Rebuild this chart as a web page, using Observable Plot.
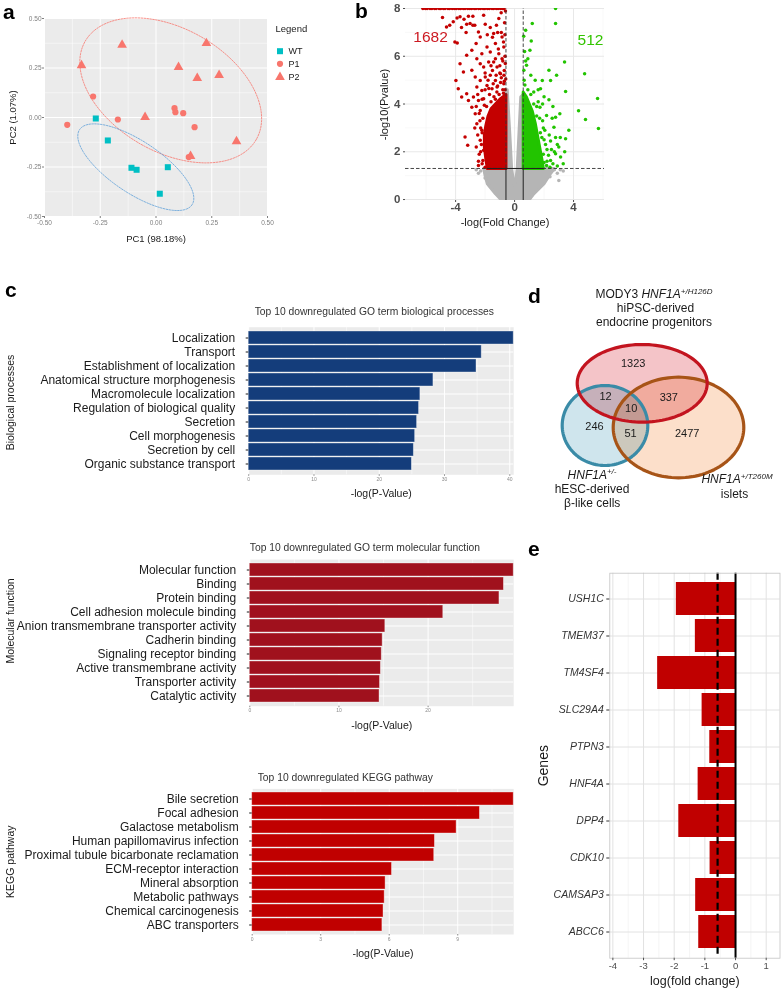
<!DOCTYPE html>
<html><head><meta charset="utf-8">
<script src="https://cdn.jsdelivr.net/npm/d3@7"></script>
<script src="https://cdn.jsdelivr.net/npm/@observablehq/plot@0.6"></script>
<style>
body{margin:0;background:#fff;font-family:'Liberation Sans',Arial,sans-serif;}
#fig{position:relative;width:783px;height:989px;overflow:hidden;background:#fff;}
.panel{position:absolute;}
.letter{position:absolute;font-weight:bold;font-size:21px;line-height:21px;color:#000;}
</style></head><body><div id="fig"></div>
<script>
// ================= DATA =================
// Panel a: PCA
const wtPC1 = [-0.270, -0.216, -0.110, -0.087, 0.053, 0.017];
const wtPC2 = [-0.005, -0.116, -0.254, -0.264, -0.251, -0.385];
const p1PC1 = [-0.398, -0.282, -0.171, 0.083, 0.087, 0.122, 0.173, 0.147];
const p1PC2 = [-0.037, 0.106, -0.010, 0.047, 0.027, 0.022, -0.049, -0.200];
const p2PC1 = [-0.334, -0.152, -0.049, 0.101, 0.185, 0.226, 0.283, 0.155, 0.361];
const p2PC2 = [0.263, 0.367, 0.002, 0.254, 0.199, 0.375, 0.214, -0.195, -0.121];
// 95% ellipses: centre and two half-axis vectors (PC1, PC2 units)
const ellipseStats = [
  {group: "Patient", cx: 0.066, cy: 0.137, ux: 0.384, uy: -0.2475, vx: -0.137, vy: -0.270},
  {group: "WT", cx: -0.0906, cy: -0.251, ux: 0.252, uy: -0.190, vx: -0.0646, vy: -0.1087}
];
const pcaTicks = [-0.5, -0.25, 0, 0.25, 0.5];

// Panel b: volcano (log2 fold change, -log10 p)
const redPts = [
[-4.89,7.62],[-4.62,7.23],[-4.16,7.44],[-3.70,7.65],[-3.43,7.55],[-3.13,7.68],[-2.83,7.68],[-3.02,7.37],[-3.25,7.34],[-2.83,7.30],
[-3.29,6.99],[-4.05,6.60],[-3.89,6.56],[-2.45,7.02],[-2.10,7.72],[-1.99,7.34],[-1.65,7.20],[-1.42,6.95],[-1.07,7.58],[-0.91,7.82],
[-1.23,7.30],[-2.33,6.81],[-2.61,6.53],[-2.90,6.25],[-3.25,6.04],[-3.70,5.69],[-3.47,5.34],[-2.90,5.41],[-3.98,4.99],[-3.82,4.64],
[-3.59,4.29],[-3.25,4.43],[-3.13,4.15],[-2.90,3.87],[-3.36,2.62],[-3.18,2.27],[-2.45,1.43],[-2.56,5.90],[-2.22,6.11],[-1.87,6.39],
[-1.65,6.18],[-1.30,6.53],[-0.85,6.81],[-0.73,6.39],[-1.07,6.11],[-2.33,5.69],[-2.10,5.55],[-1.76,5.76],[-1.42,5.76],[-1.19,5.55],
[-0.85,5.90],[-2.67,5.13],[-2.33,4.99],[-1.99,5.13],[-1.65,5.20],[-1.30,4.99],[-0.96,5.27],[-2.56,4.71],[-2.22,4.57],[-1.87,4.78],
[-1.53,4.64],[-1.19,4.71],[-0.73,4.85],[-2.79,4.29],[-2.45,4.15],[-2.10,4.22],[-2.67,3.59],[-2.33,3.73],[-2.56,3.17],[-2.22,2.90],
[-2.33,2.48],[-2.10,2.06],[-1.87,1.78],[-2.15,1.64],[-1.65,1.50],[-1.76,1.38],[-0.70,5.40],[-0.80,5.80],[-1.00,5.30],[-0.65,6.00],
[-0.75,6.60],[-0.90,7.00],[-0.68,7.40],[-1.30,5.90],[-1.10,6.30],[-0.95,4.90],[-1.50,5.40],[-1.80,5.00],[-2.00,4.60],[-1.70,4.40],
[-2.20,4.20],[-2.40,3.60],[-2.30,3.00],[-2.30,2.00],[-2.20,1.50],[-2.00,1.35],[-2.40,1.90],[-0.62,7.90],[-0.66,6.90],[-0.63,5.70],
[-0.72,5.20],[-1.15,7.00],[-1.50,6.80],[-1.85,6.90],[-2.70,7.30],[-3.60,7.20],[-3.90,7.60],[-4.40,7.30],
[-1.90,3.90],[-1.60,4.10],[-1.40,4.30],[-1.20,4.50],[-1.05,4.40],[-0.80,4.60],[-0.70,4.95],[-0.65,4.60],[-0.90,5.10],[-1.25,5.20],
[-1.45,4.85],[-1.75,4.65],[-2.05,3.95],[-2.15,3.40],[-1.00,5.60],[-0.60,5.05],[-1.60,5.60],[-2.00,5.30],[-2.50,4.40],[-2.60,3.90],
[-1.30,4.20],[-2.25,2.30],[-2.20,2.80],[-2.35,3.30],[-2.50,2.70],[-2.60,2.20],[-2.45,1.60],[-2.70,3.00],[-0.75,4.45],[-1.15,4.75]];
const redTopX = [-6.22,-6.05,-5.93,-5.74,-5.61,-5.43,-5.32,-5.12,-5.01,-4.83,-4.72,-4.52,-4.41,-4.23,-4.08,-3.95,-3.78,-3.66,-3.48,-3.36,
-3.18,-3.04,-2.91,-2.73,-2.62,-2.44,-2.31,-2.13,-2.02,-1.84,-1.71,-1.53,-1.42,-1.24,-1.12,-0.96,-0.83,-0.72];
const greenPts = [
[1.20,7.37],[2.78,7.37],[1.13,6.64],[1.04,6.25],[0.62,6.84],[0.75,7.09],[2.33,5.41],[2.85,5.20],[3.39,5.76],[1.88,4.99],
[2.44,4.99],[1.76,4.64],[2.33,4.18],[1.72,3.87],[2.17,3.52],[2.55,3.40],[2.78,3.45],[3.07,3.59],[2.67,3.03],[2.78,2.60],
[2.44,2.45],[2.90,2.30],[3.68,2.90],[3.46,2.55],[3.00,2.20],[2.78,1.92],[3.12,1.78],[2.44,1.64],[2.17,1.43],[0.81,5.62],
[0.63,5.41],[0.90,5.90],[1.40,5.00],[1.30,4.50],[1.60,4.10],[1.90,3.30],[2.05,2.90],[2.20,2.10],[1.95,1.90],[2.00,2.50],
[1.75,2.80],[1.50,3.50],[2.30,1.85],[2.60,1.50],[3.30,1.50],[2.90,1.40],[2.00,1.55],[4.34,3.72],[4.81,3.35],[5.63,4.23],
[5.69,2.97],[4.75,5.27],[3.46,4.52],[2.78,8.00],
[0.70,4.80],[0.90,4.60],[1.10,4.40],[0.65,5.00],[1.30,4.00],[1.50,3.90],[1.70,3.40],[1.85,2.60],[2.10,2.30],[1.95,3.00],
[2.35,2.70],[2.50,2.10],[2.20,1.60],[2.40,1.35],[1.10,5.20],[0.75,5.80],[0.68,6.20],[1.60,4.60],[2.00,4.30],[2.60,3.90],
[3.10,2.60],[3.40,2.00],[2.70,2.00],[1.90,4.00]];
const grayPts = [[-2.30,1.20],[-2.60,1.25],[2.90,1.10],[3.10,1.25],[2.40,0.95],[-2.00,0.90],[3.30,1.20],[-2.45,1.10],[2.70,1.25],[3.00,0.80]];
// outlines of the densest clouds of points
const redCloud = [[-0.585,1.3],[-1.85,1.3],[-1.95,1.7],[-2.05,2.2],[-2.05,2.7],[-1.95,3.1],[-1.8,3.5],[-1.6,3.8],[-1.3,4.0],[-1.0,4.2],[-0.585,4.4]];
const greenCloud = [[0.585,1.3],[1.95,1.3],[1.85,1.7],[1.7,2.2],[1.55,2.7],[1.4,3.2],[1.2,3.7],[1.0,4.0],[0.8,4.3],[0.585,4.5]];
const grayCloud = [[-2.1,1.3],[-0.585,1.3],[-0.585,4.6],[-0.5,4.6],[-0.33,2.8],[-0.2,1.3],[-0.08,0.8],[0,0.55],[0.08,0.8],[0.18,1.3],[0.3,2.8],[0.42,4.3],[0.585,4.4],[0.585,1.3],[2.7,1.3],[2.4,1.05],[2.0,0.66],[1.3,0.24],[0.95,-0.05],[-0.85,-0.05],[-1.3,0.24],[-1.85,0.66],[-2.0,1.0]];
const fcCut = Math.log2(1.5);
const pCut = -Math.log10(0.05);
const nDown = 1682, nUp = 512;

// Panel c
const bpTerms = ["Localization","Transport","Establishment of localization","Anatomical structure morphogenesis","Macromolecule localization","Regulation of biological quality","Secretion","Cell morphogenesis","Secretion by cell","Organic substance transport"];
const bpValues = [40.6, 35.7, 34.9, 28.3, 26.3, 26.1, 25.8, 25.5, 25.3, 25.0];
const mfTerms = ["Molecular function","Binding","Protein binding","Cell adhesion molecule binding","Anion transmembrane transporter activity","Cadherin binding","Signaling receptor binding","Active transmembrane activity","Transporter activity","Catalytic activity"];
const mfValues = [29.6, 28.5, 28.0, 21.7, 15.2, 14.9, 14.8, 14.7, 14.6, 14.55];
const keggTerms = ["Bile secretion","Focal adhesion","Galactose metabolism","Human papillomavirus infection","Proximal tubule bicarbonate reclamation","ECM-receptor interaction","Mineral absorption","Metabolic pathways","Chemical carcinogenesis","ABC transporters"];
const keggValues = [11.45, 9.97, 8.95, 8.0, 7.97, 6.12, 5.84, 5.8, 5.75, 5.7];

// Panel d: Venn counts
const vennRegions = ["MODY3 only","MODY3 & hESC","all three","MODY3 & islets","hESC only","hESC & islets","islets only"];
const vennCounts = [1323, 12, 10, 337, 246, 51, 2477];

// Panel e
const genes = ["USH1C","TMEM37","TM4SF4","SLC29A4","PTPN3","HNF4A","DPP4","CDK10","CAMSAP3","ABCC6"];
const logFC = [-1.93, -1.31, -2.54, -1.09, -0.84, -1.22, -1.85, -0.83, -1.30, -1.20];

// ================= LAYOUT HELPERS =================
const FONT = "'Liberation Sans', Arial, Helvetica, sans-serif";
const fig = document.getElementById("fig");
function place(node, left, top) {
  const d = document.createElement("div");
  d.className = "panel"; d.style.left = left + "px"; d.style.top = top + "px";
  d.appendChild(node); fig.appendChild(d);
}
function letter(ch, left, baseline) {
  const d = document.createElement("div");
  d.className = "letter"; d.textContent = ch;
  d.style.left = left + "px"; d.style.top = (baseline - 17) + "px";
  fig.appendChild(d);
}
const st = {background: "none", fontFamily: FONT, overflow: "visible"};
const label = (txt, anchor, o) => Plot.text([txt], {frameAnchor: anchor, text: d => d, textAnchor: "middle", lineAnchor: "middle", fill: "#1a1a1a", ...o});

// ================= PANEL A =================
const pcaRows = [
  ...wtPC1.map((x, i) => ({x, y: wtPC2[i], g: "WT"})),
  ...p1PC1.map((x, i) => ({x, y: p1PC2[i], g: "P1"})),
  ...p2PC1.map((x, i) => ({x, y: p2PC2[i], g: "P2"}))
];
const ellRows = ellipseStats.flatMap(e => d3.range(0, 360, 3).map(a => {
  const t = a * Math.PI / 180;
  return {g: e.group, x: e.cx + e.ux * Math.cos(t) + e.vx * Math.sin(t), y: e.cy + e.uy * Math.cos(t) + e.vy * Math.sin(t)};
}));
const fmt2 = d => d.toFixed(2);
const plotA = Plot.plot({
  width: 320, height: 250, marginLeft: 44, marginRight: 53, marginTop: 18, marginBottom: 34,
  style: st,
  x: {domain: [-0.5, 0.5]}, y: {domain: [-0.5, 0.5]},
  marks: [
    Plot.frame({fill: "#EBEBEB", stroke: "none"}),
    Plot.gridX([-0.375, -0.125, 0.125, 0.375], {stroke: "white", strokeOpacity: 1, strokeWidth: 0.5}),
    Plot.gridY([-0.375, -0.125, 0.125, 0.375], {stroke: "white", strokeOpacity: 1, strokeWidth: 0.5}),
    Plot.gridX(pcaTicks, {stroke: "white", strokeOpacity: 1, strokeWidth: 1}),
    Plot.gridY(pcaTicks, {stroke: "white", strokeOpacity: 1, strokeWidth: 1}),
    Plot.axisX(pcaTicks, {tickSize: 2, tickPadding: 2, fontSize: 6.5, color: "#7F7F7F", tickFormat: fmt2, label: null}),
    Plot.axisY(pcaTicks, {tickSize: 2, tickPadding: 1, fontSize: 6.5, color: "#7F7F7F", tickFormat: fmt2, label: null}),
    Plot.line(ellRows.filter(d => d.g === "Patient"), {x: "x", y: "y", stroke: "#F8766D", strokeWidth: 0.8, strokeDasharray: "1.6,1.3", curve: "linear-closed"}),
    Plot.line(ellRows.filter(d => d.g === "WT"), {x: "x", y: "y", stroke: "#5E9FD8", strokeWidth: 0.8, strokeDasharray: "1.6,1.3", curve: "linear-closed"}),
    Plot.dot(pcaRows.filter(d => d.g === "P1"), {x: "x", y: "y", r: 3.1, fill: "#F8766D", symbol: "circle"}),
    Plot.dot(pcaRows.filter(d => d.g === "P2"), {x: "x", y: "y", r: 3.6, fill: "#F8766D", symbol: "triangle"}),
    Plot.dot(pcaRows.filter(d => d.g === "WT"), {x: "x", y: "y", r: 3.4, fill: "#00BFC4", symbol: "square"}),
    label("PC1 (98.18%)", "bottom", {dy: 22, fontSize: 9.5}),
    label("PC2 (1.07%)", "left", {dx: -32, rotate: -90, fontSize: 9.5}),
    label("Legend", "top-right", {dx: 8, dy: 10, textAnchor: "start", fontSize: 9.5}),
    Plot.dot(["WT"], {frameAnchor: "top-right", dx: 12.5, dy: 32.7, r: 3.4, symbol: "square", fill: "#00BFC4"}),
    Plot.dot(["P1"], {frameAnchor: "top-right", dx: 12.5, dy: 45.3, r: 3.1, symbol: "circle", fill: "#F8766D"}),
    Plot.dot(["P2"], {frameAnchor: "top-right", dx: 12.5, dy: 58.7, r: 3.6, symbol: "triangle", fill: "#F8766D"}),
    label("WT", "top-right", {dx: 21, dy: 32.7, textAnchor: "start", fontSize: 9}),
    label("P1", "top-right", {dx: 21, dy: 45.3, textAnchor: "start", fontSize: 9}),
    label("P2", "top-right", {dx: 21, dy: 58.7, textAnchor: "start", fontSize: 9})
  ]
});
place(plotA, 0, 0);

// ================= PANEL B =================
const ptRows = pts => pts.map(([x, y]) => ({x, y}));
const REDV = "#C40000", GREENV = "#22C400", GRAYV = "#B5B5B5";
const plotB = Plot.plot({
  width: 245, height: 232, marginLeft: 40, marginRight: 6, marginTop: 8, marginBottom: 32,
  style: st,
  x: {domain: [-7.4, 6.1]}, y: {domain: [-0.04, 8]},
  marks: [
    Plot.gridX([-6, -2, 2, 6], {stroke: "#F3F3F3", strokeOpacity: 1, strokeWidth: 0.6}),
    Plot.gridY([1, 3, 5, 7], {stroke: "#F3F3F3", strokeOpacity: 1, strokeWidth: 0.6}),
    Plot.gridX([-4, 0, 4], {stroke: "#E8E8E8", strokeOpacity: 1, strokeWidth: 1}),
    Plot.gridY([0, 2, 4, 6, 8], {stroke: "#E8E8E8", strokeOpacity: 1, strokeWidth: 1}),
    Plot.line(ptRows(grayCloud), {x: "x", y: "y", fill: GRAYV, stroke: GRAYV, strokeWidth: 3, strokeLinejoin: "round", curve: "linear-closed", clip: true}),
    Plot.dot(ptRows(grayPts), {x: "x", y: "y", r: 1.75, fill: GRAYV}),
    Plot.line(ptRows(redCloud), {x: "x", y: "y", fill: REDV, stroke: REDV, strokeWidth: 3, strokeLinejoin: "round", curve: "linear-closed"}),
    Plot.line(ptRows(greenCloud), {x: "x", y: "y", fill: GREENV, stroke: GREENV, strokeWidth: 3, strokeLinejoin: "round", curve: "linear-closed"}),
    Plot.dot(ptRows(redPts), {x: "x", y: "y", r: 1.75, fill: REDV}),
    Plot.dot(redTopX, {x: d => d, y: 8, r: 1.75, fill: REDV, clip: true}),
    Plot.dot(ptRows(greenPts), {x: "x", y: "y", r: 1.75, fill: GREENV, clip: true}),
    Plot.ruleY([pCut], {stroke: "#333", strokeWidth: 0.9, strokeDasharray: "3.5,2"}),
    Plot.ruleX([-fcCut, fcCut], {y1: pCut, y2: 8, stroke: "#333", strokeWidth: 0.9, strokeDasharray: "3.5,2"}),
    Plot.ruleX([-fcCut, fcCut], {y1: -0.04, y2: pCut, stroke: "#222", strokeWidth: 1}),
    Plot.ruleY([pCut], {x1: -1.85, x2: 2.0, stroke: "#222", strokeWidth: 1}),
    Plot.axisX([-4, 0, 4], {tickSize: 2, tickPadding: 0, fontSize: 11.5, fontWeight: "bold", color: "#4D4D4D", tickFormat: d => String(d), label: null}),
    Plot.axisY([0, 2, 4, 6, 8], {tickSize: 2, tickPadding: 3, fontSize: 11.5, fontWeight: "bold", color: "#4D4D4D", tickFormat: d => String(d), label: null}),
    label(String(nDown), "top-left", {dx: 25, dy: 29, fontSize: 15.5, fill: "#CC1A22"}),
    label(String(nUp), "top-right", {dx: -14, dy: 32, fontSize: 15.5, fill: "#33C400"}),
    label("-log(Fold Change)", "bottom", {dy: 22, fontSize: 11}),
    label("-log10(Pvalue)", "left", {dx: -21, rotate: -90, fontSize: 11})
  ]
});
place(plotB, 365, 0);

// ================= PANEL C =================
function barPanel({terms, values, color, ticks, minor, domainMax, height, mLeft, mTop, mBottom, title, titleDx, titleDy, side, sideDy}) {
  const rows = terms.map((t, i) => ({t, v: values[i]}));
  return Plot.plot({
    width: 530, height, marginLeft: mLeft, marginRight: 530 - 513.2, marginTop: mTop, marginBottom: mBottom,
    style: st,
    x: {domain: [0, domainMax]},
    y: {type: "band", domain: terms, paddingInner: 0.1, paddingOuter: 0.15},
    marks: [
      Plot.frame({fill: "#EBEBEB", stroke: "none"}),
      Plot.gridX(minor, {stroke: "white", strokeOpacity: 1, strokeWidth: 0.5}),
      Plot.gridX(ticks, {stroke: "white", strokeOpacity: 1, strokeWidth: 1}),
      Plot.gridY({stroke: "white", strokeOpacity: 1, strokeWidth: 1}),
      Plot.barX(rows, {x: "v", y: "t", fill: color, stroke: "white", strokeOpacity: 0.45, strokeWidth: 0.8}),
      Plot.axisY({tickSize: 2.5, tickPadding: 11, fontSize: 12, color: "#1a1a1a", label: null}),
      Plot.axisX(ticks, {tickSize: 1.5, tickPadding: 1, fontSize: 5, color: "#8A8A8A", tickFormat: d => String(d), label: null}),
      label(title, "top-left", {dx: titleDx, dy: titleDy, textAnchor: "start", fontSize: 10.3, fill: "#333"}),
      label("-log(P-Value)", "bottom", {dy: 19, fontSize: 10.5}),
      label(side, "left", {dx: 10 - mLeft, dy: sideDy, rotate: -90, fontSize: 10.5})
    ]
  });
}
place(barPanel({terms: bpTerms, values: bpValues, color: "#143D7B", ticks: [0, 10, 20, 30, 40], minor: [5, 15, 25, 35], domainMax: 40.6,
  height: 210, mLeft: 248.2, mTop: 26.7, mBottom: 210 - 174.3, title: "Top 10 downregulated GO term biological processes", titleDx: 6, titleDy: -15, side: "Biological processes", sideDy: 1.5}), 0, 300);
place(barPanel({terms: mfTerms, values: mfValues, color: "#A0111D", ticks: [0, 10, 20], minor: [5, 15, 25], domainMax: 29.6,
  height: 210, mLeft: 249.3, mTop: 29.1, mBottom: 210 - 175.7, title: "Top 10 downregulated GO term molecular function", titleDx: 0, titleDy: -11.4, side: "Molecular function", sideDy: -12}), 0, 530);
place(barPanel({terms: keggTerms, values: keggValues, color: "#C00000", ticks: [0, 3, 6, 9], minor: [1.5, 4.5, 7.5, 10.5], domainMax: 11.45,
  height: 215, mLeft: 251.7, mTop: 28.4, mBottom: 215 - 174, title: "Top 10 downregulated KEGG pathway", titleDx: 5.5, titleDy: -11.1, side: "KEGG pathway", sideDy: 0}), 0, 760);

// ================= PANEL D =================
const vennLayout = [
  {set: "MODY3", cx: 86.7, cy: 102.8, rx: 65, ry: 38.8},
  {set: "hESC", cx: 49.5, cy: 145, rx: 42.8, ry: 40},
  {set: "islets", cx: 123, cy: 147, rx: 65.3, ry: 50.3}
];
const vennCountPos = [[77.7, 83.3], [50, 115.7], [75.7, 127.7], [113.3, 117.3], [39, 146], [75, 152.7], [131.7, 153.3]];
const outline = s => d3.range(0, 360, 3).map(a => ({x: s.cx + s.rx * Math.cos(a * Math.PI / 180), y: s.cy + s.ry * Math.sin(a * Math.PI / 180)}));
const vFill = {MODY3: "#F4C4C8", hESC: "#CFE5ED", islets: "#FCDFCA"};
const vStroke = {MODY3: "#C3141F", hESC: "#3A8BA7", islets: "#A75417"};
const countRows = vennCounts.map((c, i) => ({c, r: vennRegions[i], x: vennCountPos[i][0], y: vennCountPos[i][1]}));
const labelRows = [
  {t: "MODY3 HNF1A+/H126D", x: 98.5, y: 14}, {t: "hiPSC-derived", x: 100, y: 27.7}, {t: "endocrine progenitors", x: 98.5, y: 41.7},
  {t: "HNF1A+/-", x: 36.5, y: 194.5}, {t: "hESC-derived", x: 36.5, y: 208.5}, {t: "β-like cells", x: 36.7, y: 222.7},
  {t: "HNF1A+/T260M", x: 181.5, y: 199}, {t: "islets", x: 179, y: 213.5}
];
const plotD = Plot.plot({
  width: 228, height: 232, margin: 0, style: st,
  x: {domain: [0, 228], range: [0, 228], axis: null},
  y: {domain: [0, 232], range: [0, 232], axis: null},
  marks: [
    ...vennLayout.map(s => Plot.line(outline(s), {x: "x", y: "y", fill: vFill[s.set], stroke: "none", curve: "linear-closed", mixBlendMode: "multiply"})),
    ...["hESC", "islets", "MODY3"].map(k => Plot.line(outline(vennLayout.find(s => s.set === k)), {x: "x", y: "y", fill: "none", stroke: vStroke[k], strokeWidth: 3.2, curve: "linear-closed"})),
    Plot.text(countRows, {x: "x", y: "y", text: d => String(d.c), fontSize: 11, fill: "#1a1a1a"}),
    Plot.text(labelRows, {x: "x", y: "y", text: "t", fontSize: 12, fill: "#1a1a1a"})
  ]
});
d3.select(plotD).selectAll('g[aria-label="line"]').filter((d, i) => i < 3).style("mix-blend-mode", "multiply");
const rich = {
  "MODY3 HNF1A+/H126D": [["MODY3 ", ""], ["HNF1A", "i"], ["+/H126D", "is"]],
  "HNF1A+/-": [["HNF1A", "i"], ["+/-", "is"]],
  "HNF1A+/T260M": [["HNF1A", "i"], ["+/T260M", "is"]]
};
d3.select(plotD).selectAll("text").each(function () {
  const parts = rich[this.textContent];
  if (!parts) return;
  const el = d3.select(this); el.text(null);
  parts.forEach(([s, f]) => {
    const ts = el.append("tspan").text(s);
    if (f.includes("i")) ts.attr("font-style", "italic");
    if (f.includes("s")) ts.attr("font-size", "8px").attr("dy", "-0.55em");
  });
});
place(plotD, 555, 280);

// ================= PANEL E =================
const geneRows = genes.map((g, i) => ({g, fc: logFC[i]}));
const plotE = Plot.plot({
  width: 243, height: 429, marginLeft: 69.3, marginRight: 3.5, marginTop: 12.7, marginBottom: 31.3,
  style: st,
  x: {domain: [-4.1, 1.45]},
  y: {type: "band", domain: genes, paddingInner: 0.1, paddingOuter: 0.15},
  marks: [
    Plot.gridX([-3.5, -2.5, -1.5, -0.5, 0.5], {stroke: "#EFEFEF", strokeOpacity: 1, strokeWidth: 0.6}),
    Plot.gridX([-4, -3, -2, -1, 0, 1], {stroke: "#E2E2E2", strokeOpacity: 1, strokeWidth: 1}),
    Plot.gridY({stroke: "#E2E2E2", strokeOpacity: 1, strokeWidth: 1}),
    Plot.barX(geneRows, {x1: "fc", x2: 0, y: "g", fill: "#C00000"}),
    Plot.ruleX([-fcCut], {stroke: "black", strokeWidth: 2.2, strokeDasharray: "7,4"}),
    Plot.ruleX([0], {stroke: "black", strokeWidth: 2}),
    Plot.frame({stroke: "#C4C4C4", strokeWidth: 0.8}),
    Plot.axisY({tickSize: 3, tickPadding: 3, fontSize: 10.5, fontStyle: "italic", color: "#333", label: null}),
    Plot.axisX([-4, -3, -2, -1, 0, 1], {tickSize: 2.5, tickPadding: 1.5, fontSize: 9.5, color: "#4D4D4D", tickFormat: d => String(d), label: null}),
    label("Genes", "left", {dx: -66.3, rotate: -90, fontSize: 14}),
    label("log(fold change)", "bottom", {dy: 22.5, fontSize: 12.5})
  ]
});
place(plotE, 540, 560);

// ================= PANEL LETTERS =================
letter("a", 3, 18); letter("b", 355, 17); letter("c", 5, 296); letter("d", 528, 302); letter("e", 528, 555);
</script></body></html>
